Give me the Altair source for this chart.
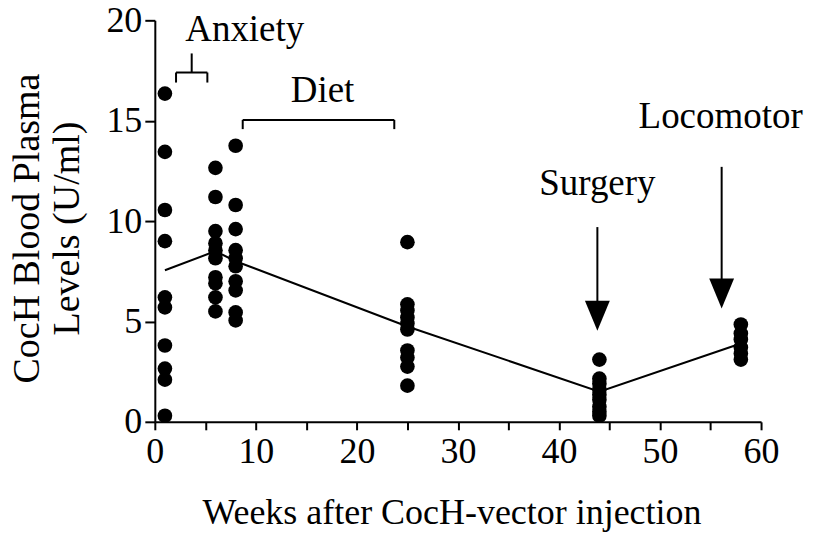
import altair as alt
import pandas as pd

# ---- data ----
weeks = [1, 6, 8, 25, 44, 58]
levels_w1 = [16.35, 13.45, 10.55, 9.0, 6.2, 5.7, 3.8, 2.65, 2.1, 0.3]
levels_w6 = [12.65, 11.2, 9.5, 8.9, 8.55, 8.15, 7.2, 6.9, 6.2, 5.5]
levels_w8 = [13.75, 10.8, 9.6, 8.55, 8.15, 7.75, 7.0, 6.55, 5.45, 5.05]
levels_w25 = [8.95, 5.85, 5.55, 5.2, 4.9, 4.6, 3.55, 3.2, 2.75, 1.8]
levels_w44 = [3.1, 2.15, 1.9, 1.6, 1.35, 1.1, 0.75, 0.5, 0.3]
levels_w58 = [4.85, 4.4, 4.1, 3.7, 3.4, 3.1]
mean_levels = [7.55, 8.5, 8.0, 4.75, 1.5, 3.9]

label_text = ["Anxiety", "Diet", "Surgery", "Locomotor"]
label_week = [8.9, 16.6, 43.8, 56.0]
label_level = [18.95, 15.94, 11.3, 14.66]

# arrows: shaft top, arrowhead centre
arrow_week = [43.8, 56.1]
arrow_top = [9.7, 12.7]
arrow_base = [6.0, 7.0]
arrow_head = [5.28, 6.39]

# bracket segments (x, x2, y, y2)
br_x = [2.1, 2.1, 5.2, 3.65, 8.7, 8.7, 23.7]
br_x2 = [5.2, 2.1, 5.2, 3.65, 23.7, 8.7, 23.7]
br_y = [17.4, 17.4, 17.4, 17.4, 15.04, 15.04, 15.04]
br_y2 = [17.4, 16.9, 16.9, 18.35, 15.04, 14.58, 14.58]

groups = [levels_w1, levels_w6, levels_w8, levels_w25, levels_w44, levels_w58]
points_df = pd.DataFrame(
    [{"week": w, "level": v} for w, g in zip(weeks, groups) for v in g]
)
means_df = pd.DataFrame({"week": weeks, "level": mean_levels})
labels_df = pd.DataFrame({"week": label_week, "level": label_level, "text": label_text})
shaft_df = pd.DataFrame({"week": arrow_week, "level": arrow_top, "level2": arrow_base})
head_df = pd.DataFrame({"week": arrow_week, "level": arrow_head})
br_df = pd.DataFrame({"week": br_x, "week2": br_x2, "level": br_y, "level2": br_y2})

FONT = "Liberation Serif"

x_enc = alt.X(
    "week:Q",
    scale=alt.Scale(domain=[0, 60], nice=False, zero=False),
    axis=alt.Axis(
        values=list(range(0, 61, 5)),
        labelExpr="datum.value % 10 == 0 ? datum.label : ''",
        title="Weeks after CocH-vector injection",
        titleX=297,
        titleY=102,
        titleBaseline="alphabetic",
        titleAlign="center",
        titleFontSize=36,
        tickSize=8,
        labelPadding=5,
    ),
)
y_enc = alt.Y(
    "level:Q",
    scale=alt.Scale(domain=[0, 20], nice=False),
    axis=alt.Axis(
        values=[0, 5, 10, 15, 20],
        title=["CocH Blood Plasma", "Levels (U/ml)"],
        titleX=-116,
        titleY=208,
        titleAngle=270,
        titleBaseline="alphabetic",
        titleAlign="center",
        titleFontSize=38,
        titleLineHeight=40,
        tickSize=10,
        labelPadding=3,
    ),
)

points = alt.Chart(points_df).mark_circle(size=215, color="black", opacity=1).encode(x=x_enc, y=y_enc)
line = alt.Chart(means_df).mark_line(color="black", strokeWidth=2).encode(x="week:Q", y="level:Q")
texts = alt.Chart(labels_df).mark_text(
    font=FONT, fontSize=37, color="black", align="center", baseline="alphabetic"
).encode(x="week:Q", y="level:Q", text="text:N")
shafts = alt.Chart(shaft_df).mark_rule(color="black", strokeWidth=2).encode(
    x="week:Q", y="level:Q", y2="level2:Q"
)
heads = alt.Chart(head_df).mark_point(
    shape="M-0.83,-1L0.83,-1L0,1Z", filled=True, size=900, color="black", opacity=1, strokeWidth=0
).encode(x="week:Q", y="level:Q")
brackets = alt.Chart(br_df).mark_rule(color="black", strokeWidth=2).encode(
    x="week:Q", x2="week2:Q", y="level:Q", y2="level2:Q"
)

chart = (
    alt.layer(line, points, brackets, shafts, heads, texts)
    .properties(
        width=607,
        height=402,
        autosize=alt.AutoSizeParams(type="none"),
        padding={"left": 147, "top": 12, "right": 45, "bottom": 112},
        background="white",
    )
    .configure_view(stroke=None)
    .configure_axis(
        grid=False,
        domainColor="black",
        domainWidth=2,
        tickColor="black",
        tickWidth=2,
        labelFont=FONT,
        labelFontSize=36,
        labelColor="black",
        labelFlush=False,
        titleFont=FONT,
        titleFontWeight="normal",
        titleColor="black",
    )
)

chart.save("out.html", embed_options={"renderer": "svg", "actions": False})
